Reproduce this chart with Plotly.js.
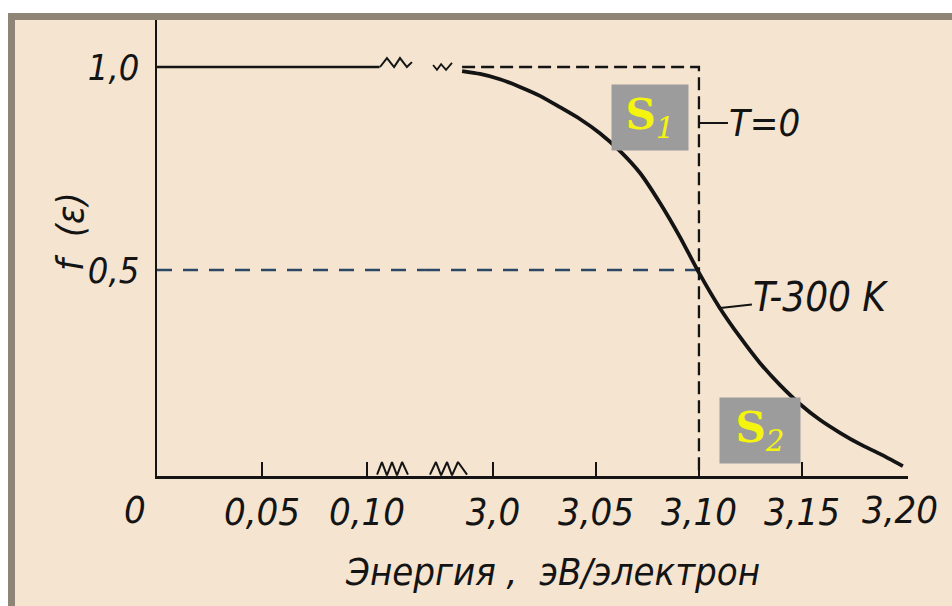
<!DOCTYPE html>
<html>
<head>
<meta charset="utf-8">
<script src="https://cdn.plot.ly/plotly-3.0.1.min.js"></script>
<style>
  html, body { margin:0; padding:0; background:#ffffff; width:952px; height:606px; overflow:hidden; }
  #frame { position:absolute; top:13px; left:8px; width:960px; height:600px; box-sizing:border-box;
           background:#F4E4D0; border-top:7px solid #8F8576; border-left:7px solid #8F8576; }
  #chart { position:absolute; top:0; left:0; width:952px; height:606px; }
</style>
</head>
<body>
<div id="frame"></div>
<div id="chart"></div>
<script>
// ---- data ----
// low-energy part of the broken energy axis (eV): f = 1
const lowE = [0, 0.106];
const lowF = [1, 1];
// T = 300 K curve on the high-energy part (eV)
const curveE = [2.9850, 2.9937, 3.0034, 3.0131, 3.0228, 3.0325, 3.0422, 3.0519, 3.0617, 3.0714,
                3.0811, 3.0908, 3.0995, 3.1102, 3.1199, 3.1296, 3.1393, 3.1490, 3.1587, 3.1685,
                3.1782, 3.1879, 3.1990];
const curveF = [0.990, 0.983, 0.970, 0.951, 0.929, 0.901, 0.872, 0.837, 0.793, 0.739,
                0.665, 0.581, 0.498, 0.406, 0.335, 0.271, 0.217, 0.170, 0.131, 0.099,
                0.071, 0.047, 0.017];
// T = 0 step
const stepE = [2.9850, 3.10, 3.10];
const stepF = [1, 1, 0];
// Fermi level marker
const fermiE = 3.10;
const halfF = 0.5;
// axis-break squiggles
const topZigE = [0.1062, 0.1095, 0.1129, 0.1157, 0.1190, 0.1214];          // low axis
const topZigF = [1, 1.022, 1.0, 1.022, 1.0, 1.012];
const topVE = [2.9709, 2.9728, 2.9748, 2.9772, 2.9801];                     // high axis
const topVF = [1.005, 0.993, 1.007, 0.993, 1.01];
const botZigLE = [0.1048, 0.1071, 0.1095, 0.1119, 0.1143, 0.1167, 0.1195]; // low axis
const botZigLF = [-0.004, 0.027, -0.006, 0.027, -0.006, 0.027, -0.004];
const botZigHE = [2.9694, 2.9723, 2.9748, 2.9777, 2.9801, 2.9830, 2.9874]; // high axis
const botZigHF = [-0.004, 0.027, -0.006, 0.027, -0.006, 0.027, -0.004];
// tick labels
const lowTicks = [0.05, 0.10];
const lowTickText = ['0,05', '0,10'];
const highTicks = [3.0, 3.05, 3.10, 3.15];
const highTickText = ['3,0', '3,05', '3,10', '3,15'];
const yTicks = [0.5, 1.0];
const yTickText = ['0,5', '1,0'];

const ink = '#141414';
const cond = 'DejaVu Sans Condensed, DejaVu Sans, sans-serif';
const tickFont = {family: cond, size: 38, color: ink, style: 'italic'};
const yTickFont = {family: cond, size: 36, color: ink, style: 'italic'};
const dashBlue = {color: '#2C4766', width: 2.5, dash: '15px,11px'};

function seg(x, y, ax, line) {
  return {x: x, y: y, xaxis: ax, yaxis: 'y', mode: 'lines', line: line, hoverinfo: 'skip'};
}

const traces = [
  seg(lowE, lowF, 'x', {color: ink, width: 2.5}),
  seg(topZigE, topZigF, 'x', {color: ink, width: 2}),
  seg(topVE, topVF, 'x2', {color: ink, width: 1.8}),
  seg(botZigLE, botZigLF, 'x', {color: ink, width: 2}),
  seg(botZigHE, botZigHF, 'x2', {color: ink, width: 2}),
  seg([lowE[0], 0.1276], [halfF, halfF], 'x', dashBlue),
  seg([2.9670, fermiE], [halfF, halfF], 'x2', dashBlue),
  seg(stepE, stepF, 'x2', {color: ink, width: 2.3, dash: '13px,6px'}),
  seg(curveE, curveF, 'x2', {color: ink, width: 3.8, shape: 'spline', smoothing: 0.6})
];

const split = 0.35686;
const layout = {
  width: 952, height: 606,
  margin: {l: 157, r: 44, t: 20, b: 130},
  paper_bgcolor: 'rgba(0,0,0,0)', plot_bgcolor: 'rgba(0,0,0,0)',
  showlegend: false,
  xaxis: {domain: [0, split], range: [0, 0.12762], anchor: 'y',
          showline: true, linecolor: ink, linewidth: 2.5, showgrid: false, zeroline: false,
          tickvals: lowTicks, ticktext: lowTickText, ticks: 'inside', ticklen: 14, tickwidth: 2, tickcolor: ink,
          tickfont: tickFont, ticklabelstandoff: 1},
  xaxis2: {domain: [split, 1], range: [2.96699, 3.2015], anchor: 'y',
          showline: true, linecolor: ink, linewidth: 2.5, showgrid: false, zeroline: false,
          tickvals: highTicks, ticktext: highTickText, ticks: 'inside', ticklen: 14, tickwidth: 2, tickcolor: ink,
          tickfont: tickFont, ticklabelstandoff: 1},
  yaxis: {domain: [0, 1], range: [-0.0074, 1.1158], anchor: 'x',
          showline: true, linecolor: ink, linewidth: 2.5, showgrid: false, zeroline: false,
          tickvals: yTicks, ticktext: yTickText, ticks: '', tickfont: yTickFont, ticklabelstandoff: 8},
  annotations: [
    // axis titles
    {xref: 'paper', yref: 'paper', x: 0.526, y: -0.2105, xanchor: 'center', yanchor: 'middle', showarrow: false,
     text: 'Энергия ,  эВ/электрон', font: {family: cond, size: 38, color: ink, style: 'italic'}},
    {xref: 'paper', yref: 'paper', x: -0.1158, y: 0.535, xanchor: 'center', yanchor: 'middle', showarrow: false,
     textangle: -90, text: 'f  (ε)', font: {family: cond, size: 38, color: ink, style: 'italic'}},
    // end tick labels of the broken axis
    {xref: 'x', yref: 'paper', x: 0, y: 0, yanchor: 'top', xshift: -22, yshift: -10, showarrow: false,
     text: '0', font: tickFont},
    {xref: 'x2', yref: 'paper', x: 3.20, y: 0, yanchor: 'top', xshift: -5, yshift: -10, showarrow: false,
     text: '3,20', font: tickFont},
    // curve labels
    {xref: 'x2', yref: 'y', x: fermiE, y: 0.862, ax: 66, ay: 0, showarrow: true, arrowhead: 0, arrowwidth: 2,
     arrowcolor: ink, text: 'T=0', font: {family: cond, size: 38, color: ink, style: 'italic'}},
    {xref: 'x2', yref: 'y', x: 3.1092, y: 0.406, ax: 103, ay: -11, showarrow: true, arrowhead: 0, arrowwidth: 2,
     arrowcolor: ink, text: 'T-300 K', font: {family: cond, size: 40, color: ink, style: 'italic'}},
    // area labels
    {xref: 'x2', yref: 'y', x: 3.0762, y: 0.8756, showarrow: false, width: 74, height: 63, bgcolor: '#9C9C9C',
     text: '<b>S</b><sub><i>1</i></sub>', font: {family: 'DejaVu Serif, serif', size: 42, color: '#F4F40E'}},
    {xref: 'x2', yref: 'y', x: 3.1296, y: 0.1047, showarrow: false, width: 78, height: 63, bgcolor: '#9C9C9C',
     text: '<b>S</b><sub><i>2</i></sub>', font: {family: 'DejaVu Serif, serif', size: 42, color: '#F4F40E'}}
  ]
};

Plotly.newPlot('chart', traces, layout, {staticPlot: true, displayModeBar: false});
</script>
</body>
</html>
